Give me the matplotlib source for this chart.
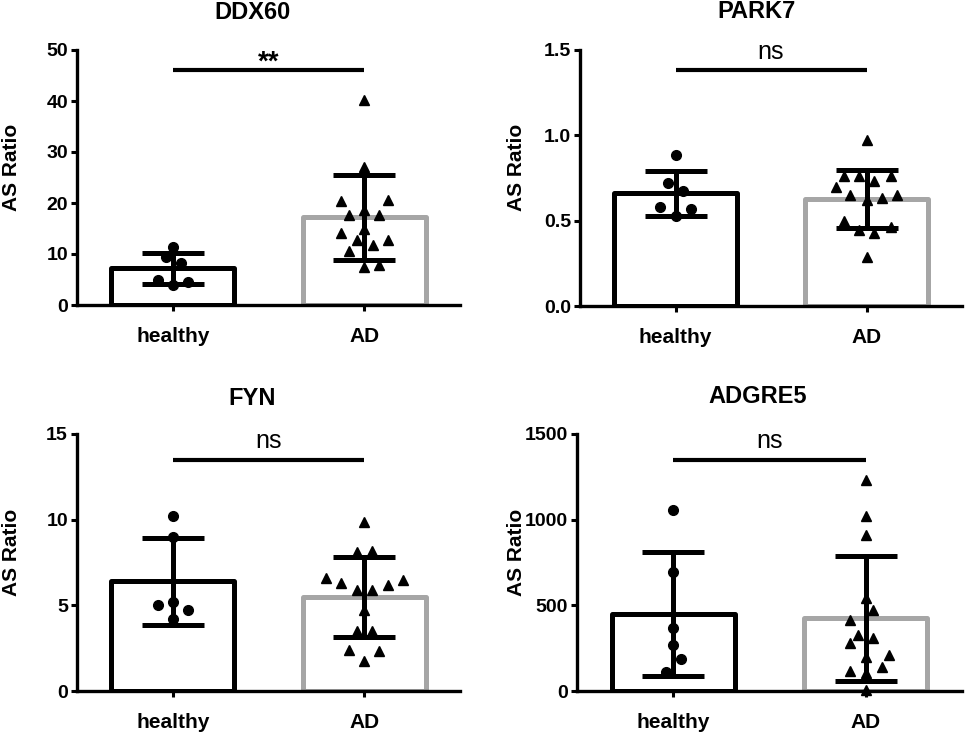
import matplotlib
matplotlib.use("Agg")
import matplotlib.pyplot as plt
import numpy as np

plt.rcParams['font.family'] = ['Liberation Sans', 'DejaVu Sans']

groups = ["healthy", "AD"]
genes = ["DDX60", "PARK7", "FYN", "ADGRE5"]
sig_labels = ["**", "ns", "ns", "ns"]

# bar means and SDs
means = {
    "DDX60": [7.2, 17.2],
    "PARK7": [0.66, 0.627],
    "FYN": [6.4, 5.5],
    "ADGRE5": [448, 425],
}
sds = {
    "DDX60": [3.0, 8.35],
    "PARK7": [0.13, 0.172],
    "FYN": [2.52, 2.33],
    "ADGRE5": [361, 365],
}

# individual points
healthy_pts = {
    "DDX60": [11.4, 9.5, 8.2, 5.0, 4.6, 3.9],
    "PARK7": [0.885, 0.72, 0.675, 0.58, 0.57, 0.53],
    "FYN": [10.2, 9.0, 5.0, 5.2, 4.7, 4.2],
    "ADGRE5": [1058, 692, 366, 269, 185, 113],
}
ad_pts = {
    "DDX60": [40.2, 27.1, 20.3, 20.6, 17.6, 17.6, 18.6, 14.1, 15.0, 12.7, 12.7, 11.8, 10.5, 7.5, 7.8],
    "PARK7": [0.97, 0.70, 0.76, 0.76, 0.73, 0.76, 0.65, 0.65, 0.62, 0.63, 0.50, 0.445, 0.425, 0.46, 0.29],
    "FYN": [9.85, 8.1, 8.2, 6.6, 6.3, 5.9, 5.9, 6.2, 6.5, 4.7, 3.5, 3.5, 2.4, 2.35, 1.75],
    "ADGRE5": [1233, 1023, 912, 542, 473, 415, 327, 308, 279, 201, 210, 142, 117, 103, 5],
}

# horizontal scatter offsets of the points (layout, not data)
healthy_jit = {
    "DDX60": [0, -0.035, 0.044, -0.079, 0.079, 0],
    "PARK7": [0, -0.04, 0.038, -0.079, 0.079, 0],
    "FYN": [0, 0, -0.079, 0, 0.082, 0],
    "ADGRE5": [0, 0, 0, 0, 0.042, -0.04],
}
ad_jit = {
    "DDX60": [0, 0, -0.122, 0.122, -0.079, 0.079, 0, -0.122, 0, 0.122, -0.038, 0.044, -0.079, 0, 0.079],
    "PARK7": [0, -0.162, -0.119, -0.04, 0.038, 0.126, -0.084, 0.161, 0, 0.082, -0.119, -0.04, 0.038, 0.126, 0],
    "FYN": [0, -0.038, 0.04, -0.2, -0.122, -0.038, 0.04, 0.122, 0.2, 0, -0.038, 0.04, -0.079, 0.079, 0],
    "ADGRE5": [0, 0, 0, 0, 0.038, -0.083, -0.04, 0.038, -0.083, 0, 0.12, 0.082, -0.083, 0, 0],
}

ymax = {"DDX60": 50, "PARK7": 1.5, "FYN": 15, "ADGRE5": 1500}
yticks = {
    "DDX60": [0, 10, 20, 30, 40, 50],
    "PARK7": [0.0, 0.5, 1.0, 1.5],
    "FYN": [0, 5, 10, 15],
    "ADGRE5": [0, 500, 1000, 1500],
}
ytick_labels = {
    "DDX60": ["0", "10", "20", "30", "40", "50"],
    "PARK7": ["0.0", "0.5", "1.0", "1.5"],
    "FYN": ["0", "5", "10", "15"],
    "ADGRE5": ["0", "500", "1000", "1500"],
}
sig_y = {"DDX60": 46, "PARK7": 1.38, "FYN": 13.46, "ADGRE5": 1346}

W, H = 969, 734
fig = plt.figure(figsize=(W / 100, H / 100), dpi=100)

# axes boxes in pixels: left, right, top, bottom
boxes = {
    "DDX60": (77, 460, 50, 305),
    "PARK7": (580, 962, 50, 306),
    "FYN": (77, 460, 434, 691),
    "ADGRE5": (577, 962, 434, 691),
}
ylabel_x = {"DDX60": -0.172, "PARK7": -0.167, "FYN": -0.172, "ADGRE5": -0.158}
title_pos = {"DDX60": (0.457, 1.149), "PARK7": (0.463, 1.149),
             "FYN": (0.457, 1.14), "ADGRE5": (0.468, 1.144)}

edge_colors = ["black", "#a6a6a6"]
xs = np.arange(len(groups))

for gene, sig in zip(genes, sig_labels):
    l, r, t, b = boxes[gene]
    ax = fig.add_axes([l / W, 1 - b / H, (r - l) / W, (b - t) / H])
    ax.bar(xs, means[gene], width=0.64, color="white", edgecolor=edge_colors,
           linewidth=3.6, zorder=2, joinstyle="round")
    ax.plot(xs[0] + np.array(healthy_jit[gene]), healthy_pts[gene], 'o', color="black",
            markersize=7, zorder=3, clip_on=False)
    ax.plot(xs[1] + np.array(ad_jit[gene]), ad_pts[gene], '^', color="black",
            markersize=7, zorder=3, clip_on=False)
    ax.errorbar(xs, means[gene], yerr=sds[gene], fmt='none', ecolor="black",
                elinewidth=3.6, capsize=22, capthick=3.6, zorder=4)
    ax.plot([0, 1], [sig_y[gene]] * 2, color="black", linewidth=3, solid_capstyle="butt", zorder=4)
    if sig == "**":
        ax.annotate(sig, xy=(0.5, sig_y[gene]), xytext=(0, 0.5), textcoords="offset points",
                    ha="center", va="baseline", fontsize=20, fontweight="bold")
    else:
        ax.annotate(sig, xy=(0.5, sig_y[gene]), xytext=(0, 8.6), textcoords="offset points",
                    ha="center", va="baseline", fontsize=18)

    ax.set_xlim(-0.5, 1.5)
    ax.set_ylim(0, ymax[gene])
    ax.set_yticks(yticks[gene])
    ax.set_yticklabels(ytick_labels[gene])
    ax.set_xticks(xs)
    ax.set_xticklabels(groups)
    for s in ["top", "right"]:
        ax.spines[s].set_visible(False)
    for s in ["left", "bottom"]:
        ax.spines[s].set_linewidth(2.4)
    ax.tick_params(axis="y", length=4.5, width=2.2, pad=2, labelsize=14)
    ax.tick_params(axis="x", length=4.5, width=2.2, pad=11, labelsize=15)
    for lab in ax.get_xticklabels() + ax.get_yticklabels():
        lab.set_fontweight("bold")
    ax.set_ylabel("AS Ratio", fontsize=15, fontweight="bold")
    ax.yaxis.set_label_coords(ylabel_x[gene], 0.54)
    ax.yaxis.label.set_va("center")
    tx, ty = title_pos[gene]
    ax.text(tx, ty, gene, transform=ax.transAxes, ha="center", va="center",
            fontsize=17, fontweight="bold")

fig.savefig("out.png", dpi=100)
